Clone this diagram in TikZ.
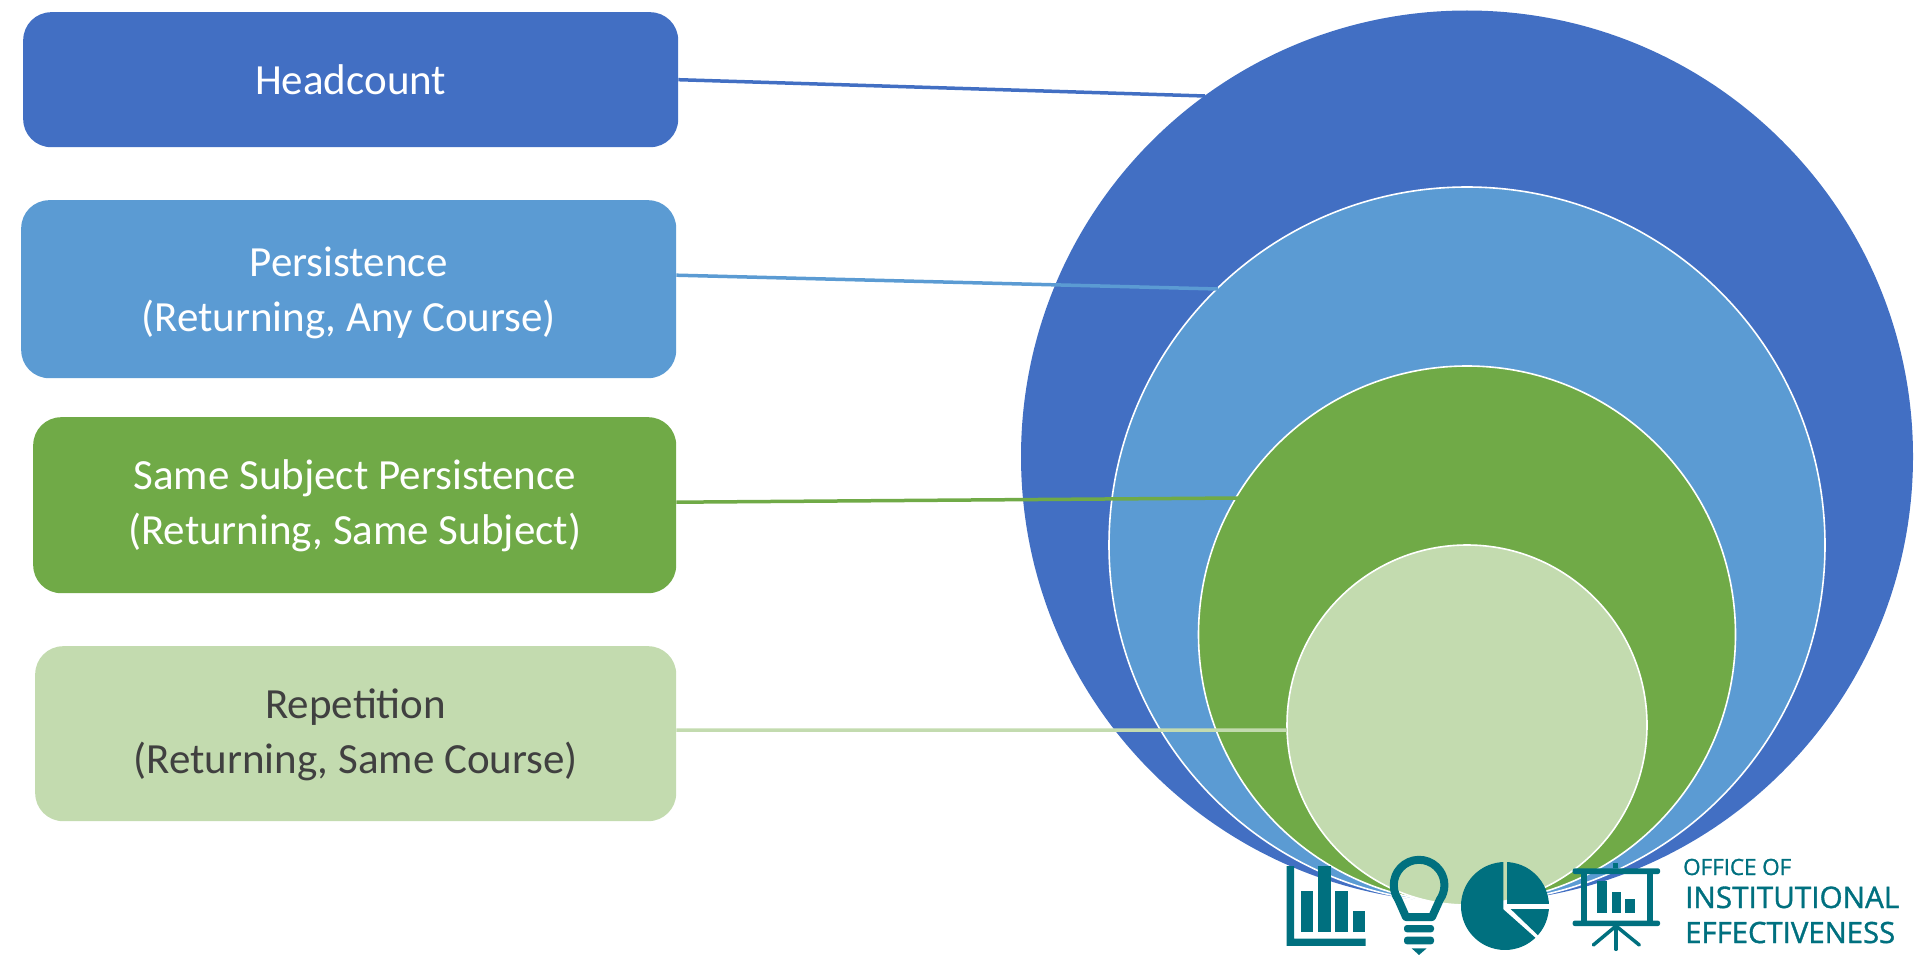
\documentclass[tikz,border=0pt]{standalone}
\usepackage{fontspec}
\setmainfont{Carlito}
\newfontfamily\logofont[FakeBold=1.2]{Open Sans}
\newcommand\lowline[2]{\smash{\raisebox{-#1}{#2}}}
\definecolor{cA}{HTML}{426FC3}
\definecolor{cB}{HTML}{5B9BD3}
\definecolor{cC}{HTML}{70AA47}
\definecolor{cD}{HTML}{C3DBAF}
\definecolor{teal}{HTML}{00707F}
\tikzset{
  box/.style={rounded corners=28pt,inner sep=0pt,align=center,font=\fontsize{43}{55}\selectfont,anchor=north west},
  ring/.style={circle,draw=white,line width=1.6pt,inner sep=0pt,minimum size=#1},
  link/.style={line width=3.5pt},
  ico/.style={fill=teal,draw=none},
  icoline/.style={draw=teal,line cap=round},
  logotext/.style={anchor=base west,inner sep=0pt,text=teal},
}
\begin{document}
\begin{tikzpicture}[x=1pt,y=-1pt]
\useasboundingbox (0,0) rectangle (1914,955);
% circles
\node[ring=892pt,fill=cA,draw=none] (c1) at (1467,456.5) {};
\node[ring=716pt,fill=cB] (c2) at (1467,545) {};
\node[ring=537pt,fill=cC] (c3) at (1467,634.5) {};
\node[ring=360pt,fill=cD] (c4) at (1467,725) {};
% boxes
\node[box,fill=cA,text=white,minimum width=655pt,minimum height=135pt] (b1) at (23,12) {Headcount};
\node[box,fill=cB,text=white,minimum width=655pt,minimum height=178pt] (b2) at (21,200) {\lowline{15pt}{Persistence}\\\lowline{15pt}{(Returning, Any Course)}};
\node[box,fill=cC,text=white,minimum width=643pt,minimum height=176pt] (b3) at (33,417) {\lowline{12pt}{Same Subject Persistence}\\\lowline{12pt}{(Returning, Same Subject)}};
\node[box,fill=cD,text=black!75,minimum width=641pt,minimum height=175pt] (b4) at (35,646) {\lowline{12pt}{Repetition}\\\lowline{12pt}{(Returning, Same Course)}};
% connectors
\coordinate (e1) at (1205,96);
\coordinate (e2) at (1218,289);
\coordinate (e3) at (1238,498);
\coordinate (e4) at (1287,730);
\draw[link,cA] (b1.east) -- (e1);
\draw[link,cB] ([yshift=14pt]b2.east) -- (e2);
\draw[link,cC] ([yshift=3pt]b3.east) -- (e3);
\draw[link,cD] ([yshift=3.5pt]b4.east) -- (e4);
% logo icons: bar chart, bulb, pie
\begin{scope}[shift={(1280,850)},x=0.3333pt,y=-0.3333pt]
  \fill[ico] (20,48) -- (42,48) -- (42,266) -- (257,266) -- (257,288) -- (20,288) -- cycle;
  \fill[ico] (62,123) rectangle (100,245);
  \fill[ico] (113,48) rectangle (152,245);
  \fill[ico] (166,123) rectangle (205,245);
  \fill[ico] (218,183) rectangle (256,245);
  \draw[teal,line width=8pt,line join=round] (378,201) -- (355,149)
     arc[start angle=145,end angle=395,radius=76] -- (456,201) -- cycle;
  \fill[ico,rounded corners=3pt] (372,225) rectangle (462,247);
  \fill[ico,rounded corners=3pt] (372,260) rectangle (462,283);
  \fill[ico] (395,295) -- (440,295) -- (417,315) -- cycle;
  \begin{scope}
    \clip (675,168) circle [radius=132];
    \fill[ico] (682,20) rectangle (820,163);
    \fill[ico] (530,20) -- (670,20) -- (670,178) -- (785,280) -- (785,310) -- (530,310) -- cycle;
    \fill[ico] (692,177) -- (820,177) -- (820,300) -- cycle;
  \end{scope}
\end{scope}
% logo icon: presentation board
\begin{scope}[shift={(1560,850)},x=0.3333pt,y=-0.3333pt]
  \fill[ico,rounded corners=2pt] (38,55) rectangle (300,72);
  \fill[ico,rounded corners=2pt] (38,212) rectangle (300,228);
  \fill[ico] (160,40) rectangle (175,55);
  \fill[ico] (62,72) rectangle (80,212);
  \fill[ico] (262,72) rectangle (280,212);
  \fill[ico] (110,92) rectangle (140,190);
  \fill[ico] (155,125) rectangle (183,190);
  \fill[ico] (195,148) rectangle (225,190);
  \draw[icoline,line width=3.5pt] (168,228) -- (100,285);
  \draw[icoline,line width=3.5pt] (168,228) -- (168,298);
  \draw[icoline,line width=3.5pt] (168,228) -- (238,285);
\end{scope}
\node[logotext] (t1) at (1683,875) {\resizebox{108pt}{!}{\logofont\fontsize{21}{21}\selectfont OFFICE OF}};
\node[logotext] (t2) at (1685,908) {\resizebox{214pt}{!}{\logofont\fontsize{30}{30}\selectfont INSTITUTIONAL}};
\node[logotext] (t3) at (1685,943) {\resizebox{210pt}{!}{\logofont\fontsize{30}{30}\selectfont EFFECTIVENESS}};
\end{tikzpicture}
\end{document}
